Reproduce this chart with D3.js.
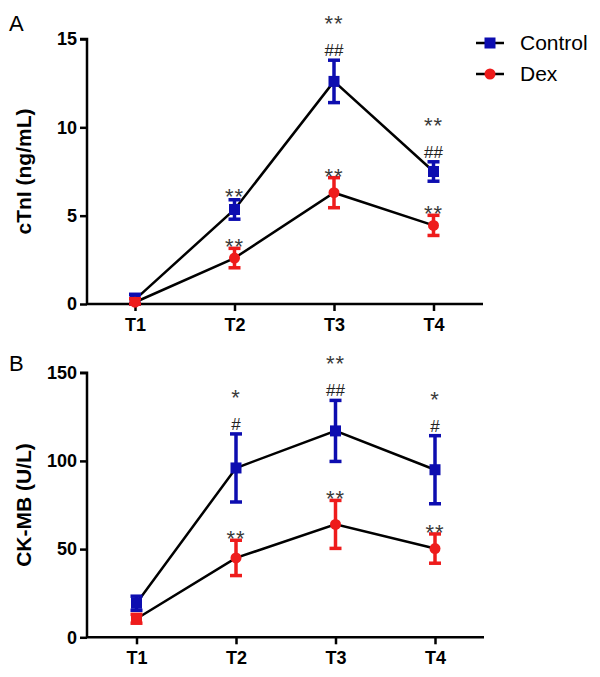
<!DOCTYPE html>
<html><head><meta charset="utf-8">
<script src="https://cdn.jsdelivr.net/npm/d3@7"></script>
<style>body{margin:0;background:#fff}svg{display:block}</style>
</head><body>
<script>
const categories = ["T1","T2","T3","T4"];
const seriesNames = ["Control","Dex"];
// Panel A: cTnI
const cTnI_control = [0.25, 5.35, 12.6, 7.5];
const cTnI_control_err = [0.3, 0.55, 1.2, 0.55];
const cTnI_dex = [0.1, 2.6, 6.3, 4.45];
const cTnI_dex_err = [0.2, 0.55, 0.85, 0.57];
const cTnI_ticks = [0,5,10,15];
const cTnI_mark_control = [["",""],["**",""],["**","##"],["**","##"]];
const cTnI_mark_dex = ["","**","**","**"];
// Panel B: CK-MB
const ckmb_control = [19.3, 96, 117, 95];
const ckmb_control_err = [4, 19.3, 17.3, 19.3];
const ckmb_dex = [10.5, 45, 64, 50.3];
const ckmb_dex_err = [2.5, 10, 13.6, 8.3];
const ckmb_ticks = [0,50,100,150];
const ckmb_mark_control = [["",""],["*","#"],["**","##"],["*","#"]];
const ckmb_mark_dex = ["","**","**","**"];

const BLUE = "#0d0db0", RED = "#ee1c1c";
const FONT = "Arial, 'Liberation Sans', sans-serif";
const W = 600, H = 677;
const svg = d3.select("body").append("svg").attr("width", W).attr("height", H)
  .style("font-family", FONT);

function star(g, x, y, txt){
  g.append("text").attr("x",x).attr("y",y).attr("text-anchor","middle")
    .attr("font-size",22).attr("letter-spacing",1).attr("fill","#3a3a3a").text(txt);
}
function hash(g, x, y, txt){
  g.append("text").attr("x",x).attr("y",y).attr("text-anchor","middle")
    .attr("font-size",17).attr("fill","#222").text(txt);
}

function panel(opt){
  const g = svg.append("g");
  const x = d3.scalePoint().domain(categories).range([opt.x0, opt.x0 + 298.5]);
  const y = d3.scaleLinear().domain([0, opt.max]).range([opt.yBottom, opt.yTop]);
  const ya = g.append("g").attr("transform", `translate(${opt.axisX},0)`)
    .call(d3.axisLeft(y).tickValues(opt.ticks).tickSize(7).tickPadding(3));
  ya.select(".domain").attr("stroke","#000").attr("stroke-width",2.5).attr("d",`M-7,${y(opt.max)}H0V${y(0)}`);
  ya.selectAll(".tick line").attr("stroke","#000").attr("stroke-width",2.5);
  ya.selectAll(".tick text").attr("font-size",18).attr("font-weight","bold").attr("fill","#000").attr("font-family",FONT);
  const xa = g.append("g").attr("transform", `translate(0,${opt.yBottom})`)
    .call(d3.axisBottom(x).tickSize(7).tickPadding(7));
  xa.select(".domain").attr("stroke","#000").attr("stroke-width",2.5).attr("d",`M${opt.axisX},0H${opt.axisEnd}`);
  xa.selectAll(".tick line").attr("stroke","#000").attr("stroke-width",2.5);
  xa.selectAll(".tick text").attr("font-size",18).attr("font-weight","bold").attr("fill","#000").attr("font-family",FONT);
  g.append("text").attr("transform",`translate(${opt.labelX},${(opt.yTop+opt.yBottom)/2}) rotate(-90)`)
    .attr("text-anchor","middle").attr("font-size",21).attr("font-weight","bold").text(opt.label);
  g.append("text").attr("x",9).attr("y",opt.letterY).attr("font-size",22).text(opt.letter);

  const line = d3.line().x((d,i)=>x(categories[i])).y(d=>y(d));
  const sets = [
    {vals:opt.c, err:opt.ce, color:BLUE, shape:"square"},
    {vals:opt.d, err:opt.de, color:RED, shape:opt.dexT1Square ? "mixed" : "circle"}
  ];
  sets.forEach(s=>{
    g.append("path").datum(s.vals).attr("d",line).attr("fill","none").attr("stroke","#000").attr("stroke-width",2.5);
  });
  sets.forEach(s=>{
    s.vals.forEach((v,i)=>{
      const cx = x(categories[i]);
      const t = y(v + s.err[i]), b = y(Math.max(0, v - s.err[i]));
      g.append("line").attr("x1",cx).attr("x2",cx).attr("y1",t).attr("y2",b).attr("stroke",s.color).attr("stroke-width",3.5);
      [t,b].forEach(yy=>g.append("line").attr("x1",cx-6).attr("x2",cx+6).attr("y1",yy).attr("y2",yy).attr("stroke",s.color).attr("stroke-width",3.5));
      const sq = s.shape==="square" || (s.shape==="mixed" && i===0);
      if (sq) g.append("rect").attr("x",cx-5.5).attr("y",y(v)-5.5).attr("width",11).attr("height",11).attr("fill",s.color);
      else g.append("circle").attr("cx",cx).attr("cy",y(v)).attr("r",5.5).attr("fill",s.color);
    });
  });
  opt.cm.forEach((m,i)=>{
    const cx = x(categories[i]);
    const top = y(opt.c[i] + opt.ce[i]);
    if (m[1]) {
      hash(g, cx, top-4, m[1]);
      if (m[0]) star(g, cx, top-29, m[0]);
    } else if (m[0]) star(g, cx, top+4, m[0]);
  });
  opt.dm.forEach((m,i)=>{
    if (!m) return;
    const cx = x(categories[i]);
    star(g, cx, y(opt.d[i]+opt.de[i])+6, m);
  });
}

panel({x0:135, axisX:87, axisEnd:483, yTop:39, yBottom:304, max:15, ticks:cTnI_ticks,
  label:"cTnI (ng/mL)", labelX:31, letter:"A", letterY:31,
  c:cTnI_control, ce:cTnI_control_err, d:cTnI_dex, de:cTnI_dex_err,
  cm:cTnI_mark_control, dm:cTnI_mark_dex});
panel({x0:136.5, axisX:87, axisEnd:484, yTop:372.7, yBottom:637.3, max:150, ticks:ckmb_ticks,
  label:"CK-MB (U/L)", labelX:31, letter:"B", letterY:371, dexT1Square:true,
  c:ckmb_control, ce:ckmb_control_err, d:ckmb_dex, de:ckmb_dex_err,
  cm:ckmb_mark_control, dm:ckmb_mark_dex});

const lg = svg.append("g");
seriesNames.forEach((n,i)=>{
  const yy = 43 + i*31;
  lg.append("line").attr("x1",476).attr("x2",504).attr("y1",yy).attr("y2",yy).attr("stroke","#000").attr("stroke-width",2.5);
  if (i===0) lg.append("rect").attr("x",484.5).attr("y",yy-5.5).attr("width",11).attr("height",11).attr("fill",BLUE);
  else lg.append("circle").attr("cx",490).attr("cy",yy).attr("r",5.5).attr("fill",RED);
  lg.append("text").attr("x",520).attr("y",yy+7).attr("font-size",21).text(n);
});
</script>
</body></html>
